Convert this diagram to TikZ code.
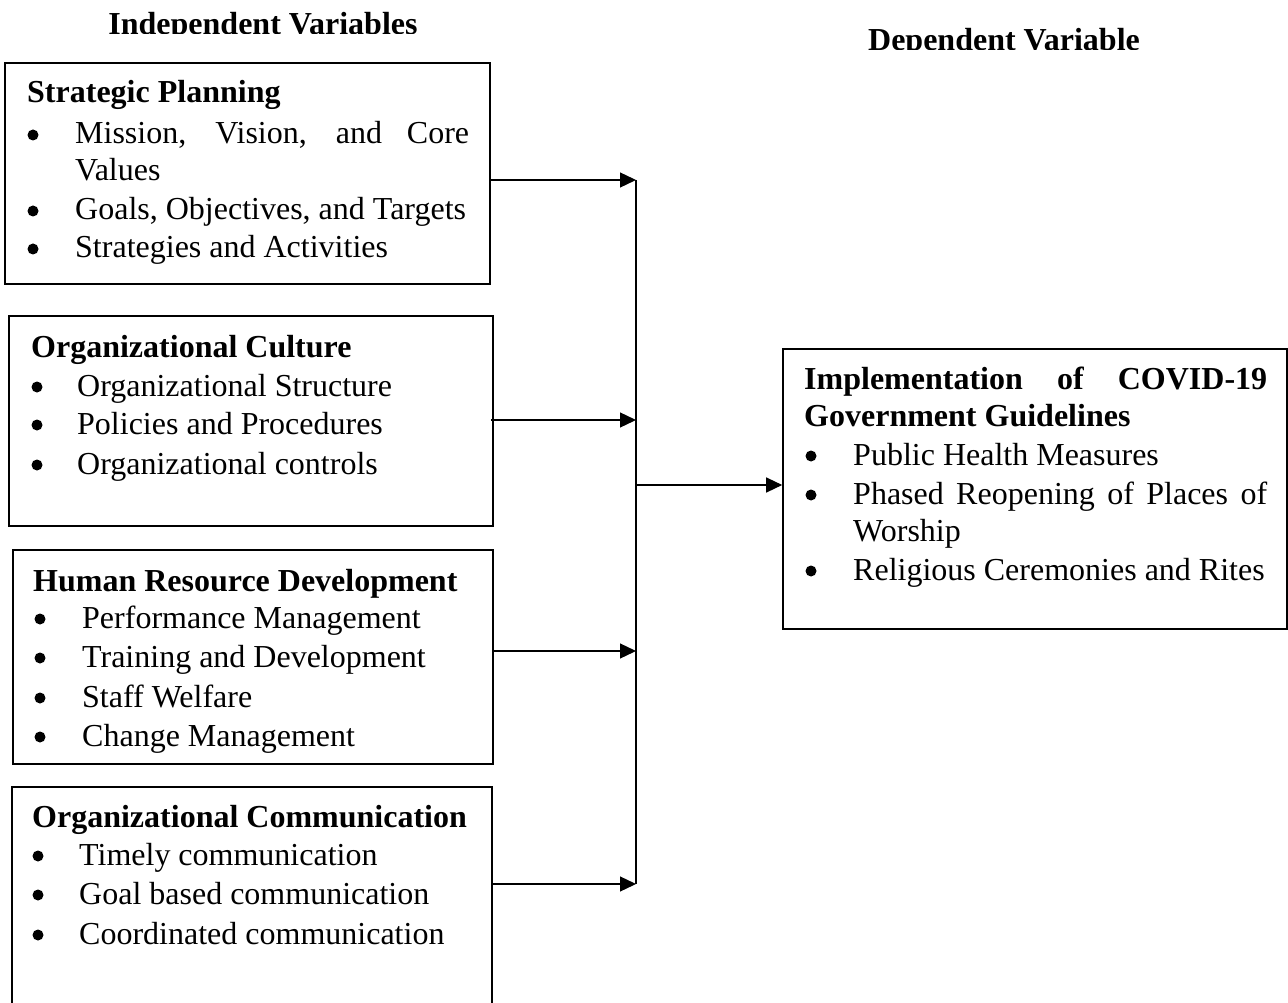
\documentclass[tikz,border=0pt]{standalone}
\usepackage{fontspec}
\setmainfont{Liberation Serif}
\usetikzlibrary{arrows.meta}
\tikzset{
  box/.style={draw=black, line width=1.6pt, inner sep=0pt},
  ttl/.style={anchor=base west, inner sep=0pt, font=\fontsize{32}{38}\selectfont\bfseries},
  itm/.style={anchor=base west, inner sep=0pt, font=\fontsize{32}{38}\selectfont},
  bul/.style={circle, fill=black, inner sep=0pt, minimum size=11pt, yshift=9pt},
  hdr/.style={anchor=base, inner sep=0pt, font=\fontsize{32}{38}\selectfont\bfseries},
  arr/.style={line width=1.3pt, -{Triangle[length=16pt,width=15pt]}},
  ln/.style={line width=1.3pt}
}
\begin{document}
\begin{tikzpicture}[x=1pt,y=-1pt]
\clip (0,0) rectangle (1288,1003);
\fill[white] (0,0) rectangle (1288,1003);
% headers (clipped at bottom as in the reference)
\begin{scope}
\clip (0,0) rectangle (700,33.5);
\node[hdr] (h1) at (263,34.5) {Independent Variables};
\end{scope}
\begin{scope}
\clip (700,0) rectangle (1288,50);
\node[hdr] (h2) at (1004,51) {Dependent Variable};
\end{scope}
% boxes
\node[box, minimum width=485pt, minimum height=221pt] (b1) at (247.5,173.5) {};
\node[box, minimum width=484pt, minimum height=210pt] (b2) at (251,421) {};
\node[box, minimum width=480pt, minimum height=214pt] (b3) at (253,657) {};
\node[box, minimum width=480pt, minimum height=240pt] (b4) at (252,907) {};
\node[box, minimum width=504pt, minimum height=280pt] (out) at (1035,489) {};
% box 1
\node[ttl] (t1) at (27,103) {Strategic Planning};
\node[bul] (b1a) at (33,144) {};
\node[itm] (i1a) at (75,144) {\makebox[394pt][s]{Mission, Vision, and Core}};
\node[itm] (i1b) at (75,181) {Values};
\node[bul] (b1c) at (33,220) {};
\node[itm] (i1c) at (75,220) {Goals, Objectives, and Targets};
\node[bul] (b1d) at (33,258) {};
\node[itm] (i1d) at (75,258) {Strategies and Activities};
% box 2
\node[ttl] (t2) at (31,357) {Organizational Culture};
\node[bul] (b2a) at (37,396) {};
\node[itm] (i2a) at (77,396) {Organizational Structure};
\node[bul] (b2b) at (37,434) {};
\node[itm] (i2b) at (77,434) {Policies and Procedures};
\node[bul] (b2c) at (37,474) {};
\node[itm] (i2c) at (77,474) {Organizational controls};
% box 3
\node[ttl] (t3) at (33,591) {Human Resource Development};
\node[bul] (b3a) at (40,628) {};
\node[itm] (i3a) at (82,628) {Performance Management};
\node[bul] (b3b) at (40,667) {};
\node[itm] (i3b) at (82,667) {Training and Development};
\node[bul] (b3c) at (40,707) {};
\node[itm] (i3c) at (82,707) {Staff Welfare};
\node[bul] (b3d) at (40,746) {};
\node[itm] (i3d) at (82,746) {Change Management};
% box 4
\node[ttl] (t4) at (32,827) {Organizational Communication};
\node[bul] (b4a) at (38,865) {};
\node[itm] (i4a) at (79,865) {Timely communication};
\node[bul] (b4b) at (38,904) {};
\node[itm] (i4b) at (79,904) {Goal based communication};
\node[bul] (b4c) at (38,944) {};
\node[itm] (i4c) at (79,944) {Coordinated communication};
% output box
\node[ttl] (to1) at (804,389) {\makebox[463pt][s]{Implementation of COVID-19}};
\node[ttl] (to2) at (804,426) {Government Guidelines};
\node[bul] (boa) at (811,465) {};
\node[itm] (ioa) at (853,465) {Public Health Measures};
\node[bul] (bob) at (811,504) {};
\node[itm] (iob) at (853,504) {\makebox[414pt][s]{Phased Reopening of Places of}};
\node[itm] (iob2) at (853,541) {Worship};
\node[bul] (boc) at (811,580) {};
\node[itm] (ioc) at (853,580) {Religious Ceremonies and Rites};
% connectors
\coordinate (j1) at (636,180);
\coordinate (j2) at (636,420);
\coordinate (j3) at (636,651);
\coordinate (j4) at (636,884);
\coordinate (jm) at (636,485);
\draw[arr] (b1.east |- j1) -- (j1);
\draw[arr] ([xshift=-3pt]b2.east |- j2) -- (j2);
\draw[arr] (b3.east |- j3) -- (j3);
\draw[arr] (b4.east |- j4) -- (j4);
\draw[ln] (j1) -- (j4);
\draw[arr] (jm) -- (out.west |- jm);
\end{tikzpicture}
\end{document}
